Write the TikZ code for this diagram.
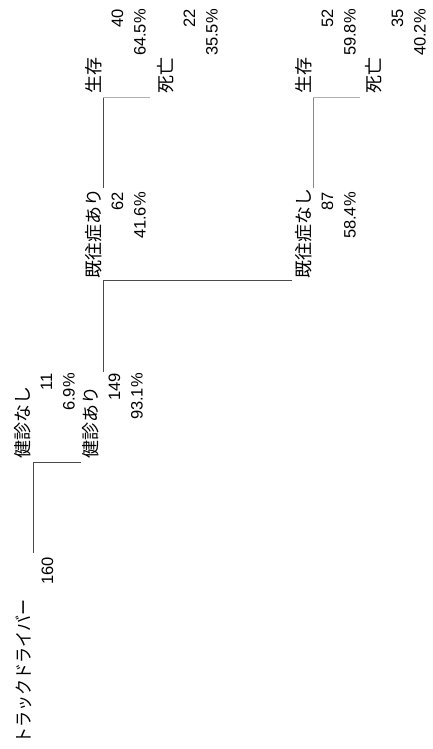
\documentclass[tikz,border=0pt]{standalone}
\usepackage{fontspec}
\setmainfont{Liberation Sans}
\newfontfamily\jp{Noto Sans CJK JP}
\definecolor{lnDark}{HTML}{4A4A4A}
\definecolor{lnMid}{HTML}{8A8A8A}
\definecolor{lnLight}{HTML}{B0B0B0}
\begin{document}
\begin{tikzpicture}[x=1pt,y=1pt,
  lab/.style={font=\jp\fontsize{18}{18}\selectfont, inner sep=0pt, anchor=base west},
  num/.style={font=\fontsize{16.5}{16.5}\selectfont, inner sep=0pt, anchor=base east},
  dk/.style={draw=lnDark, line width=1pt},
  md/.style={draw=lnMid, line width=1pt},
  lt/.style={draw=lnLight, line width=1pt}]
\useasboundingbox (0,0) rectangle (432,749);
\begin{scope}[rotate=90, transform shape]
  % root
  \node[lab] (root) at (5,-30.5) {\scalebox{0.89}[1]{トラックドライバー}};
  \node[num] (rootN) at (192,-53) {160};
  % level 1
  \node[lab] (k1) at (290,-29.5) {健診なし};
  \node[num] (k1N) at (376,-52) {11};
  \node[num] (k1P) at (376,-74.5) {6.9\%};
  \node[lab] (k2) at (290,-97.5) {健診あり};
  \node[num] (k2N) at (376,-120) {149};
  \node[num] (k2P) at (376,-142.5) {93.1\%};
  % level 2
  \node[lab] (e1) at (470,-100.5) {既往症あり};
  \node[num] (e1N) at (557,-123) {62};
  \node[num] (e1P) at (557,-145.5) {41.6\%};
  \node[lab] (e2) at (470,-310.5) {既往症なし};
  \node[num] (e2N) at (557,-333) {87};
  \node[num] (e2P) at (557,-355.5) {58.4\%};
  % leaves
  \node[lab] (s1) at (655,-100.5) {生存};
  \node[num] (s1N) at (740,-123) {40};
  \node[num] (s1P) at (740,-145.5) {64.5\%};
  \node[lab] (d1) at (655,-172.5) {死亡};
  \node[num] (d1N) at (740,-195) {22};
  \node[num] (d1P) at (740,-217.5) {35.5\%};
  \node[lab] (s2) at (655,-310.5) {生存};
  \node[num] (s2N) at (740,-333) {52};
  \node[num] (s2P) at (740,-355.5) {59.8\%};
  \node[lab] (d2) at (655,-380.5) {死亡};
  \node[num] (d2N) at (740,-403) {35};
  \node[num] (d2P) at (740,-425.5) {40.2\%};
  % junctions
  \coordinate (rootOut) at (196,-33);
  \coordinate (k1In) at (286,-33);
  \coordinate (k2In) at (286,-81);
  \coordinate (k2Out) at (377,-103);
  \coordinate (e1In) at (468,-103);
  \coordinate (e2In) at (468,-292);
  \coordinate (e1Out) at (561,-103);
  \coordinate (s1In) at (651,-103);
  \coordinate (d1In) at (651,-150);
  \coordinate (e2Out) at (561,-313);
  \coordinate (s2In) at (651,-313);
  \coordinate (d2In) at (651,-360);
  % connectors
  \draw[dk] (rootOut) -- (k1In) -- (k2In);
  \draw[dk] (k2Out) -- (e1In) -- (e2In);
  \draw[dk] (e1Out) -- (s1In);
  \draw[lt] (s1In) -- (d1In);
  \draw[md] (e2Out) -- (s2In);
  \draw[lt] (s2In) -- (d2In);
\end{scope}
\end{tikzpicture}
\end{document}
